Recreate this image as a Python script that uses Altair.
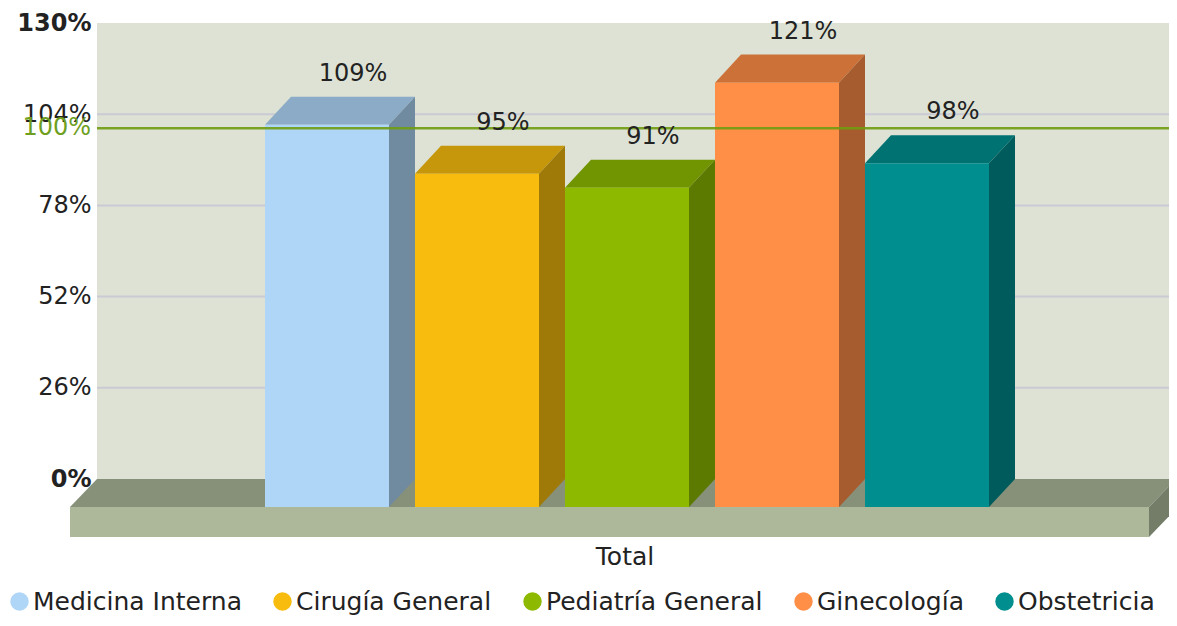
import altair as alt
import pandas as pd

categories = ["Medicina Interna", "Cirugía General", "Pediatría General", "Ginecología", "Obstetricia"]
values = [109, 95, 91, 121, 98]
front_colors = ["#b0d6f7", "#f7bc0e", "#8dba00", "#ff8e46", "#008e8e"]
top_colors = ["#8cabc6", "#c6960b", "#719500", "#cc7138", "#007272"]
side_colors = ["#708aa0", "#a07a09", "#5c7900", "#a65c2e", "#005c5c"]
y_ticks = [0, 26, 52, 78, 104, 130]
grid_values = [26, 52, 78, 104]
target = 100
group_label = "Total"

# scale units: x = one bar slot, y = percent
BAR_W = 124 / 150
DX = 26 / 150
DY = 8.0
CH_W, CH_H = 1161, 610
X_DOMAIN = [-257 / 150, 904 / 150]
Y_PX = 456 / 130
Y_DOMAIN = [(479 - 8 - CH_H) / Y_PX, (479 - 8) / Y_PX]
WALL_L, WALL_R = -168 / 150, 904 / 150
FLOOR_L, FLOOR_R = -195 / 150, 884 / 150
FLOOR_DX = 27 / 150
FLOOR_DROP = 16.55
FONT = "DejaVu Sans"
FS = 24
FS_TXT = 25

x_s = alt.Scale(domain=X_DOMAIN, range=[0, CH_W], nice=False, zero=False)
y_s = alt.Scale(domain=Y_DOMAIN, range=[CH_H, 0], nice=False, zero=False)
X = lambda f: alt.X(f, type="quantitative", scale=x_s, axis=None)
Y = lambda f: alt.Y(f, type="quantitative", scale=y_s, axis=None)

wall = alt.Chart(pd.DataFrame({"a": [WALL_L], "b": [WALL_R], "t": [130], "o": [0]})).mark_rect(color="#dde2d4").encode(
    x=X("a"), x2="b", y=Y("t"), y2="o")

axis_layer = alt.Chart(pd.DataFrame({"v": y_ticks})).mark_point(opacity=0).encode(
    x=alt.value(0),
    y=alt.Y("v:Q", scale=y_s, axis=alt.Axis(
        values=y_ticks, title=None, domain=False, ticks=False, grid=False, offset=-83,
        labelPadding=0, labelFont=FONT, labelFontSize=FS, labelColor="#222222",
        labelExpr="datum.value + '%'",
        labelFontWeight=alt.expr("datum.value == 0 || datum.value == 130 ? 'bold' : 'normal'"))))

grid = alt.Chart(pd.DataFrame({"v": grid_values, "a": WALL_L, "b": WALL_R})).mark_rule(color="#c9cad3", strokeWidth=2).encode(
    x=X("a"), x2="b", y=Y("v"))

floor_top = alt.Chart(pd.DataFrame({
    "x": [FLOOR_L, FLOOR_L + FLOOR_DX, FLOOR_R, FLOOR_R + FLOOR_DX],
    "y": [-DY, 0, 0, 0], "y2": [-DY, -DY, -DY, 0]})).mark_area(color="#87917a").encode(x=X("x"), y=Y("y"), y2="y2")
floor_side = alt.Chart(pd.DataFrame({
    "x": [FLOOR_R, FLOOR_R + FLOOR_DX], "y": [-DY, 0], "y2": [-FLOOR_DROP, -FLOOR_DROP + DY]})).mark_area(color="#737d68").encode(
    x=X("x"), y=Y("y"), y2="y2")
floor_front = alt.Chart(pd.DataFrame({"a": [FLOOR_L], "b": [FLOOR_R], "t": [-DY], "o": [-FLOOR_DROP]})).mark_rect(color="#adb89a").encode(
    x=X("a"), x2="b", y=Y("t"), y2="o")

tops, sides = [], []
for i, (c, v) in enumerate(zip(categories, values)):
    f = v - DY
    for x, y, y2 in [(i, f, f), (i + DX, v, f), (i + BAR_W, v, f), (i + BAR_W + DX, v, v)]:
        tops.append(dict(s=c, x=x, y=y, y2=y2, fill=top_colors[i]))
    for x, y, y2 in [(i + BAR_W, f, -DY), (i + BAR_W + DX, v, 0)]:
        sides.append(dict(s=c, x=x, y=y, y2=y2, fill=side_colors[i]))

top_layer = alt.Chart(pd.DataFrame(tops)).mark_area().encode(
    x=X("x"), y=Y("y"), y2="y2", detail="s:N", fill=alt.Fill("fill:N", scale=None))
side_layer = alt.Chart(pd.DataFrame(sides)).mark_area().encode(
    x=X("x"), y=Y("y"), y2="y2", detail="s:N", fill=alt.Fill("fill:N", scale=None))

bars_df = pd.DataFrame({
    "Servicio": categories, "v": values,
    "a": [i for i in range(5)], "b": [i + BAR_W for i in range(5)],
    "t": [v - DY for v in values], "o": [-DY] * 5,
    "lx": [i + BAR_W / 2 + DX for i in range(5)], "ly": [v + 6.5 for v in values],
    "lab": [f"{v}%" for v in values]})
front = alt.Chart(bars_df).mark_rect().encode(
    x=X("a"), x2="b", y=Y("t"), y2="o",
    fill=alt.Fill("Servicio:N", sort=categories, scale=alt.Scale(domain=categories, range=front_colors),
                  legend=alt.Legend(orient="none", legendX=-1, legendY=581, direction="horizontal", columns=5,
                                    title=None, symbolType="circle", symbolSize=340, symbolStrokeWidth=0,
                                    labelFont=FONT, labelFontSize=FS_TXT, labelColor="#222222", labelOffset=1,
                                    labelLimit=400, columnPadding=28, gridAlign="none")))

line = alt.Chart(pd.DataFrame({"v": [target], "a": WALL_L, "b": WALL_R})).mark_rule(
    color="#6f9c10", strokeWidth=2.5, opacity=0.9).encode(x=X("a"), x2="b", y=Y("v"))
line_label = alt.Chart(pd.DataFrame({"v": [target], "x": [WALL_L], "t": [f"{target}%"]})).mark_text(
    align="right", baseline="middle", dx=-6, font=FONT, fontSize=FS, color="#6f9f1f").encode(
    x=X("x"), y=Y("v"), text="t:N")

labels = alt.Chart(bars_df).mark_text(baseline="middle", font=FONT, fontSize=FS, color="#222222").encode(
    x=X("lx"), y=Y("ly"), text="lab:N")

total = alt.Chart(pd.DataFrame({"x": [2.4], "y": [-22.2], "t": [group_label]})).mark_text(
    baseline="middle", font=FONT, fontSize=FS_TXT, color="#222222").encode(x=X("x"), y=Y("y"), text="t:N")

chart = alt.layer(wall, grid, axis_layer, floor_top, floor_side, floor_front, top_layer, side_layer, front,
                  line, line_label, labels, total).resolve_scale(fill="independent").resolve_axis(y="independent").properties(
    width=CH_W, height=CH_H, padding=0, autosize=alt.AutoSizeParams(type="none"), background="white"
).configure_view(stroke=None)

chart.save("out.html", embed_options={"renderer": "svg", "actions": False})
